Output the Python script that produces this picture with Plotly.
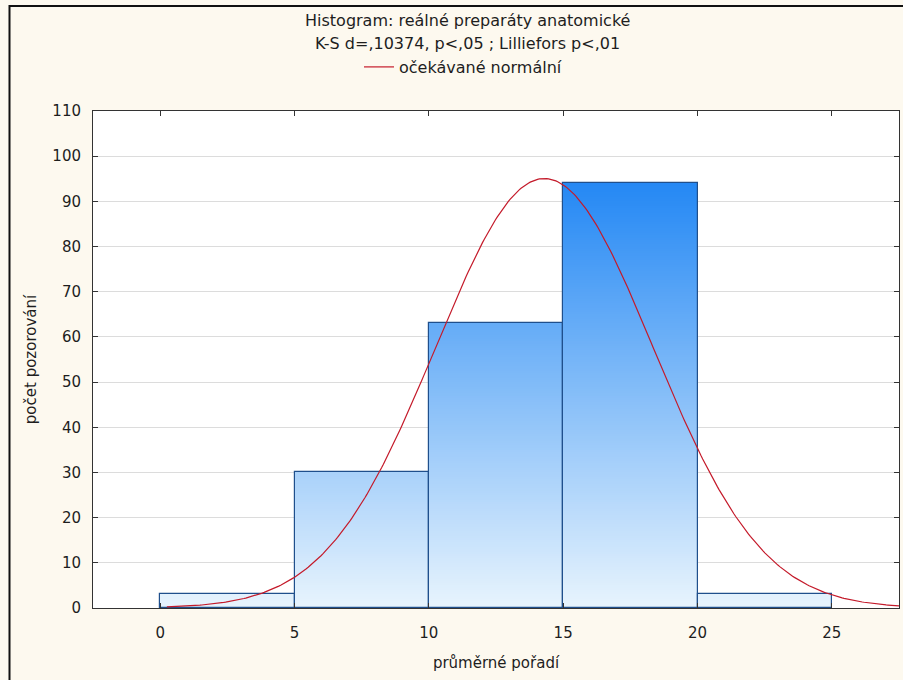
import numpy as np
import plotly.graph_objects as go

# Histogram bins (left edges, width) and observed counts
bin_left = [0, 5, 10, 15, 20]
bin_width = 5
counts = [3, 30, 63, 94, 3]

# Parameters of the fitted normal curve
fit_mean = 14.3
fit_sd = 4.05
curve_start = 0.25
curve_end = 27.5

title_lines = [
    "Histogram: reálné preparáty anatomické",
    "K-S d=,10374, p<,05 ; Lilliefors p<,01",
]
legend_label = "očekávané normální"
x_title = "průměrné pořadí"
y_title = "počet pozorování"
x_ticks = [0, 5, 10, 15, 20, 25]
y_ticks = list(range(0, 111, 10))

FONT = "DejaVu Sans, Verdana, sans-serif"
TEXT = "#1e1e1e"

centers = [l + bin_width / 2 for l in bin_left]
n_total = sum(counts)

# Vertical gradient fill built from thin stacked slices of each bar
light = np.array([232, 244, 253])
dark = np.array([36, 136, 244])
g_top = 94.0
step = 0.5
seg_x, seg_base, seg_h, seg_col = [], [], [], []
for cx, h in zip(centers, counts):
    y0 = 0.0
    while y0 < h:
        hh = min(step * 1.15, h - y0)
        t = min((y0 + step / 2) / g_top, 1.0)
        c = light + (dark - light) * t
        seg_x.append(cx)
        seg_base.append(y0)
        seg_h.append(hh)
        seg_col.append("rgb(%d,%d,%d)" % tuple(np.round(c).astype(int)))
        y0 += step

fig = go.Figure()
fig.add_trace(go.Bar(
    x=seg_x, y=seg_h, base=seg_base, width=bin_width,
    marker=dict(color=seg_col, line=dict(width=0)),
    showlegend=False, hoverinfo="skip",
))
fig.add_trace(go.Bar(
    x=centers, y=counts, width=bin_width,
    marker=dict(color="rgba(0,0,0,0)", line=dict(color="#1f4f8c", width=1.2)),
    showlegend=False,
))

xs = np.linspace(curve_start, curve_end, 400)
pdf = np.exp(-0.5 * ((xs - fit_mean) / fit_sd) ** 2) / (fit_sd * np.sqrt(2 * np.pi))
fig.add_trace(go.Scatter(
    x=xs, y=n_total * bin_width * pdf, mode="lines",
    line=dict(color="#c41a2a", width=1.2),
    name=legend_label, showlegend=True,
))

L, R, T, B = 93, 4, 111, 72
W, H = 903, 680
pw, ph = W - L - R, H - T - B

def px_x(p):
    return (p - L) / pw

def px_y(p):
    return (H - B - p) / ph

annotations = []
for i, line in enumerate(title_lines):
    annotations.append(dict(
        text=line, x=px_x(467), y=px_y(20 + 23 * i), xref="paper", yref="paper",
        xanchor="center", yanchor="middle", showarrow=False,
        font=dict(family=FONT, size=16, color=TEXT),
    ))

fig.update_layout(
    width=W, height=H,
    margin=dict(l=L, r=R, t=T, b=B),
    paper_bgcolor="#fdf9ef",
    plot_bgcolor="#ffffff",
    barmode="overlay",
    bargap=0,
    font=dict(family=FONT, size=15, color=TEXT),
    showlegend=True,
    legend=dict(
        x=px_x(463), y=px_y(67), xanchor="center", yanchor="middle",
        orientation="h", bgcolor="rgba(0,0,0,0)",
        font=dict(family=FONT, size=16, color=TEXT),
        itemwidth=30,
    ),
    annotations=annotations,
    shapes=[dict(
        type="rect", xref="paper", yref="paper",
        x0=px_x(9.5), x1=px_x(910), y0=px_y(700), y1=px_y(6),
        line=dict(color="#111111", width=2), fillcolor="rgba(0,0,0,0)",
        layer="below",
    )],
)

fig.update_xaxes(
    range=[-2.5, 27.5], tickvals=x_ticks, ticks="inside", ticklen=5,
    tickcolor="#333", showline=True, linecolor="#333", linewidth=1,
    mirror="ticks", showgrid=False, zeroline=False,
    ticklabelstandoff=11,
    title=dict(text=x_title, font=dict(family=FONT, size=15, color=TEXT), standoff=16),
)
fig.update_yaxes(
    range=[0, 110], tickvals=y_ticks, ticks="inside", ticklen=5,
    tickcolor="#333", showline=True, linecolor="#333", linewidth=1,
    mirror="ticks", showgrid=True, gridcolor="#dcdcdc", gridwidth=1,
    zeroline=False, ticklabelstandoff=8,
    title=dict(text=y_title, font=dict(family=FONT, size=15, color=TEXT), standoff=12),
)

fig.write_html("out.html")
